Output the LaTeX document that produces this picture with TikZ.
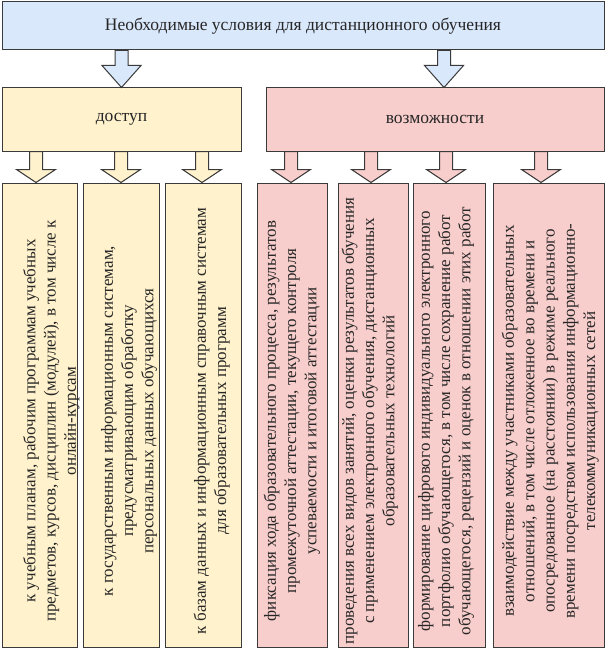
\documentclass[tikz,border=0pt]{standalone}
\usepackage{fontspec}
\setmainfont{Liberation Serif}
\usepackage{graphicx}
\usetikzlibrary{calc}
\definecolor{goluboy}{HTML}{DAE8FC}
\definecolor{zheltyy}{HTML}{FFF2CC}
\definecolor{rozovyy}{HTML}{F8CECC}
\definecolor{kontur}{HTML}{3A3A3A}
\newcommand{\vtekst}[2][0pt]{\kern#1\raisebox{-6pt}[\height][\depth]{\rotatebox{90}{\begin{tabular}{@{}c@{}}#2\end{tabular}}}\kern-#1}
\newcommand{\blokstrelka}[5][0pt]{%
  \draw[strelka, fill=#4] let \p1=(#3.north), \p2=(#2.south) in
    ({\x1+#1-6.5pt},\y2) -- ({\x1+#1-6.5pt},{\y1+#5}) -- ({\x1+#1-19.5pt},{\y1+#5}) --
    ({\x1+#1},\y1) -- ({\x1+#1+19.5pt},{\y1+#5}) -- ({\x1+#1+6.5pt},{\y1+#5}) --
    ({\x1+#1+6.5pt},\y2) -- cycle;}

\begin{document}
\begin{tikzpicture}[
  x=1pt, y=-1pt,
  blok/.style={rectangle, draw=kontur, line width=1pt, inner sep=0pt, text=black!85, font=\fontsize{17.5pt}{20.3pt}\selectfont},
  zagolovok/.style={blok, fill=goluboy, minimum width=602pt, minimum height=48pt},
  kategoriya/.style={blok, minimum height=63pt},
  punkt/.style={blok, minimum height=464pt, font=\fontsize{17pt}{20.3pt}\selectfont},
  strelka/.style={draw=kontur, line width=1pt, line join=miter}
]
\useasboundingbox (0,0) rectangle (606,650);

\node[zagolovok] (usl) at (303,26) {Необходимые условия для дистанционного обучения};

\node[kategoriya, fill=zheltyy, minimum width=239pt] (dost) at (121.5,119.5) {доступ};
\node[kategoriya, fill=rozovyy, minimum width=338pt] (vozm) at (435,119.5) {возможности};

\node[punkt, fill=zheltyy, minimum width=75pt] (p1) at (39.5,415) {\vtekst[12pt]{к учебным планам, рабочим программам учебных\\ предметов, курсов, дисциплин (модулей), в том числе к\\ онлайн-курсам}};
\node[punkt, fill=zheltyy, minimum width=76pt] (p2) at (121,415) {\vtekst[8pt]{к государственным информационным системам,\\ предусматривающим обработку\\ персональных данных обучающихся}};
\node[punkt, fill=zheltyy, minimum width=76pt] (p3) at (203,415) {\vtekst[9pt]{к базам данных и информационным справочным системам\\ для образовательных программ}};

\node[punkt, fill=rozovyy, minimum width=70pt] (p4) at (292,415) {\vtekst{фиксация хода образовательного процесса, результатов\\ промежуточной аттестации, текущего контроля\\ успеваемости и итоговой аттестации}};
\node[punkt, fill=rozovyy, minimum width=70pt] (p5) at (373,415) {\vtekst[-3pt]{проведения всех видов занятий, оценки результатов обучения\\ с применением электронного обучения, дистанционных\\ образовательных технологий}};
\node[punkt, fill=rozovyy, minimum width=72pt] (p6) at (449,415) {\vtekst[-3pt]{формирование цифрового индивидуального электронного\\ портфолио обучающегося, в том числе сохранение работ\\ обучающегося, рецензий и оценок в отношении этих работ}};
\node[punkt, fill=rozovyy, minimum width=111pt] (p7) at (548.5,415) {\vtekst[2pt]{взаимодействие между участниками образовательных\\ отношений, в том числе отложенное во времени и\\ опосредованное (на расстоянии) в режиме реального\\ времени посредством использования информационно-\\ телекоммуникационных сетей}};

\blokstrelka{usl}{dost}{goluboy}{22pt}
\blokstrelka[9pt]{usl}{vozm}{goluboy}{22pt}
\blokstrelka[-3.5pt]{dost}{p1}{zheltyy}{13pt}
\blokstrelka{dost}{p2}{zheltyy}{13pt}
\blokstrelka[-1pt]{dost}{p3}{zheltyy}{13pt}
\blokstrelka[-1pt]{vozm}{p4}{rozovyy}{13pt}
\blokstrelka[-2pt]{vozm}{p5}{rozovyy}{13pt}
\blokstrelka[-3pt]{vozm}{p6}{rozovyy}{13pt}
\blokstrelka[-7.5pt]{vozm}{p7}{rozovyy}{13pt}
\end{tikzpicture}
\end{document}
